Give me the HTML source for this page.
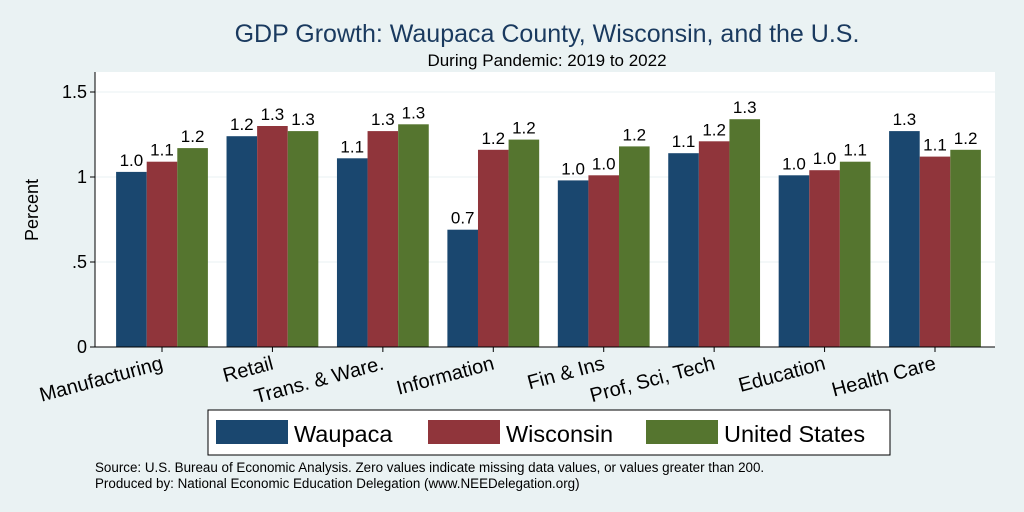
<!DOCTYPE html>
<html><head><meta charset="utf-8"><style>
body{margin:0;background:#eaf2f3;}
svg{display:block;font-family:"Liberation Sans",sans-serif;}
</style></head><body>
<svg id="c" width="1024" height="512">
<rect x="0" y="0" width="1024" height="512" fill="#eaf2f3"/>
<text x="547" y="42" font-size="25" fill="#1a3a5f" text-anchor="middle">GDP Growth: Waupaca County, Wisconsin, and the U.S.</text>
<text x="547" y="66" font-size="17" fill="#000" text-anchor="middle">During Pandemic: 2019 to 2022</text>
<rect x="95" y="72" width="900" height="275" fill="#fff"/>
<text x="38" y="210" font-size="18" text-anchor="middle" transform="rotate(-90 38 210)">Percent</text>
<g id="grid"></g><g id="bars"></g><g id="cats"></g>
<line x1="95" y1="72" x2="95" y2="347" stroke="#000" stroke-width="1"/>
<line x1="95" y1="347" x2="995" y2="347" stroke="#000" stroke-width="1"/>
<g>
<rect x="208" y="410" width="682" height="45" fill="#fff" stroke="#000" stroke-width="1"/>
<rect x="216" y="420" width="72" height="24" fill="#1a476f"/>
<text x="294" y="442" font-size="23.5">Waupaca</text>
<rect x="428" y="420" width="72" height="24" fill="#90353b"/>
<text x="506" y="442" font-size="23.5">Wisconsin</text>
<rect x="646" y="420" width="72" height="24" fill="#55752f"/>
<text x="724" y="442" font-size="23.5">United States</text>
</g>
<text x="95" y="472" font-size="13.4">Source: U.S. Bureau of Economic Analysis. Zero values indicate missing data values, or values greater than 200.</text>
<text x="95" y="488" font-size="13.4">Produced by: National Economic Education Delegation (www.NEEDelegation.org)</text>
</svg>
<script>
const categories=["Manufacturing","Retail","Trans. & Ware.","Information","Fin & Ins","Prof, Sci, Tech","Education","Health Care"];
const waupaca=[1.03,1.24,1.11,0.69,0.98,1.14,1.01,1.27];
const wisconsin=[1.09,1.30,1.27,1.16,1.01,1.21,1.04,1.12];
const unitedStates=[1.17,1.27,1.31,1.22,1.18,1.34,1.09,1.16];
const yTicks=[0,0.5,1,1.5];
const yTickLabels=["0",".5","1","1.5"];
const NS="http://www.w3.org/2000/svg";
const x0=95,x1=995,yBase=347,pxPer=170;
const y=v=>yBase-v*pxPer;
const firstC=162,lastC=935;
const gw=(lastC-firstC)/(categories.length-1);
const bw=30.6;
function mk(t,a,p){const e=document.createElementNS(NS,t);for(const k in a)e.setAttribute(k,a[k]);p.appendChild(e);return e;}
const grid=document.getElementById('grid');
yTicks.forEach((t,i)=>{
  if(t>0){const l=mk('line',{x1:x0,x2:x1,y1:y(t),y2:y(t),stroke:'#eaf2f3','stroke-width':1},grid);
  
  }
  const tk=mk('line',{x1:x0-5,x2:x0,y1:y(t),y2:y(t),stroke:'#000'},grid);
  
  
  const tx=mk('text',{x:x0-8,y:y(t)+6,'font-size':18,'text-anchor':'end'},grid);
  tx.textContent=yTickLabels[i];
  
  
});
const series=[[waupaca,'#1a476f','waupaca'],[wisconsin,'#90353b','wisconsin'],[unitedStates,'#55752f','us']];
const bars=document.getElementById('bars'),cats=document.getElementById('cats');
categories.forEach((c,i)=>{
  const cx=firstC+gw*i;
  series.forEach(([vals,col,nm],j)=>{
    const bx=cx+(j-1.5)*bw, v=vals[i];
    const r=mk('rect',{x:bx,y:y(v),width:bw,height:v*pxPer,fill:col},bars);
    
    
    const t=mk('text',{x:bx+bw/2,y:y(v)-6,'font-size':17,'text-anchor':'middle'},bars);
    t.textContent=v.toFixed(1);
    
    
  });
  const tk=mk('line',{x1:cx,x2:cx,y1:yBase,y2:yBase+5,stroke:'#000'},cats);
  
  
  const lt=mk('text',{x:cx+2,y:yBase+22,'font-size':20,'text-anchor':'end',transform:`rotate(-15 ${cx+2} ${yBase+22})`},cats);
  lt.textContent=c;
  
  
});
</script>
</body></html>
